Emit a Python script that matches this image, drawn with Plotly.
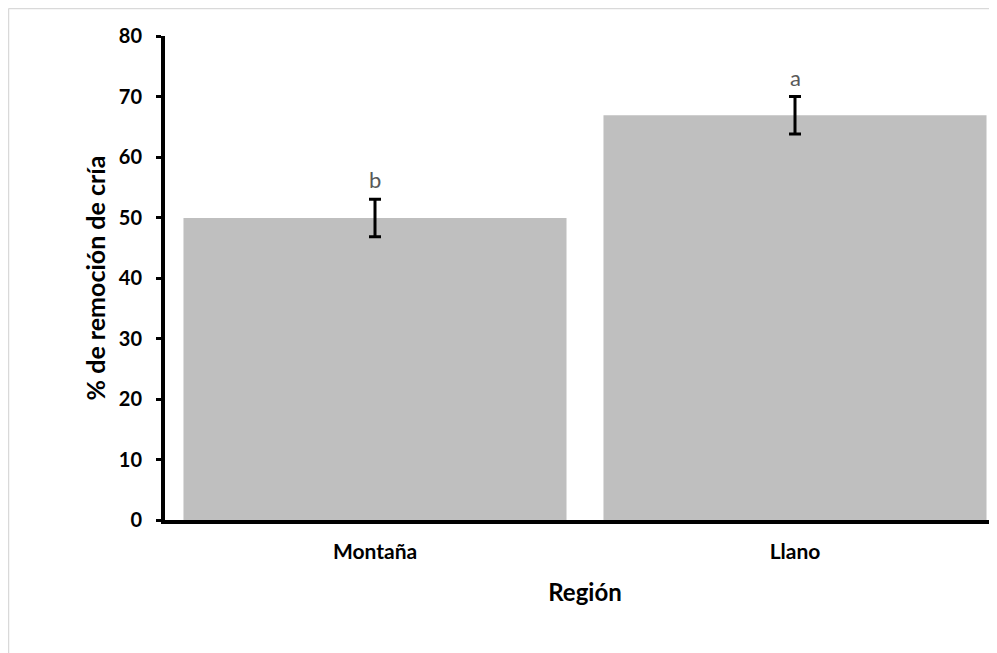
import plotly.graph_objects as go

regions = ["Montaña", "Llano"]
removal = [49.9, 66.9]
err = [3.1, 3.1]
letters = ["b", "a"]

FONT = "Lato, Open Sans, sans-serif"

fig = go.Figure()
fig.add_trace(go.Bar(
    x=regions, y=removal,
    marker=dict(color="#bfbfbf", line=dict(width=0)),
    error_y=dict(type="data", array=err, visible=True, color="black", thickness=3, width=6),
    width=0.912,
))

for r, v, e, l in zip(regions, removal, err, letters):
    fig.add_annotation(x=r, y=v + e, text=l, showarrow=False, yanchor="bottom", yshift=4,
                       font=dict(family=FONT, size=22, color="#595959"))

L, R, T, B = 157, 0, 28, 141
W, H = 997, 653
pw = W - L - R
ph = H - T - B
x_left = -L / pw + 0.5 / pw
y_top = 1 + T / ph - 0.5 / ph
border = dict(color="#d9d9d9", width=1.5)
fig.add_shape(type="line", xref="paper", yref="paper",
              x0=x_left, x1=x_left, y0=-(B + 20) / ph, y1=y_top, line=border, layer="below")
fig.add_shape(type="line", xref="paper", yref="paper",
              x0=x_left, x1=1 + 20 / pw, y0=y_top, y1=y_top, line=border, layer="below")

fig.update_layout(
    width=W, height=H,
    margin=dict(l=L, r=R, t=T, b=B),
    plot_bgcolor="white", paper_bgcolor="white",
    showlegend=False,
    font=dict(family=FONT, color="black"),
    xaxis=dict(
        range=[-0.5, 1.5],
        showline=True, linecolor="black", linewidth=4,
        ticks="", showgrid=False,
        tickfont=dict(size=21, family=FONT, weight="bold"),
        ticklabelstandoff=10,
        title=dict(text="<b>Región</b>", font=dict(size=24), standoff=23),
    ),
    yaxis=dict(
        range=[0, 80], dtick=10,
        showline=True, linecolor="black", linewidth=4,
        ticks="outside", ticklen=5, tickwidth=3, tickcolor="black",
        showgrid=False, zeroline=False,
        tickfont=dict(size=20, family=FONT, weight="bold"),
        ticklabelstandoff=10,
        title=dict(text="<b>% de remoción de cría</b>", font=dict(size=25), standoff=7),
    ),
)

fig.write_html("out.html")
